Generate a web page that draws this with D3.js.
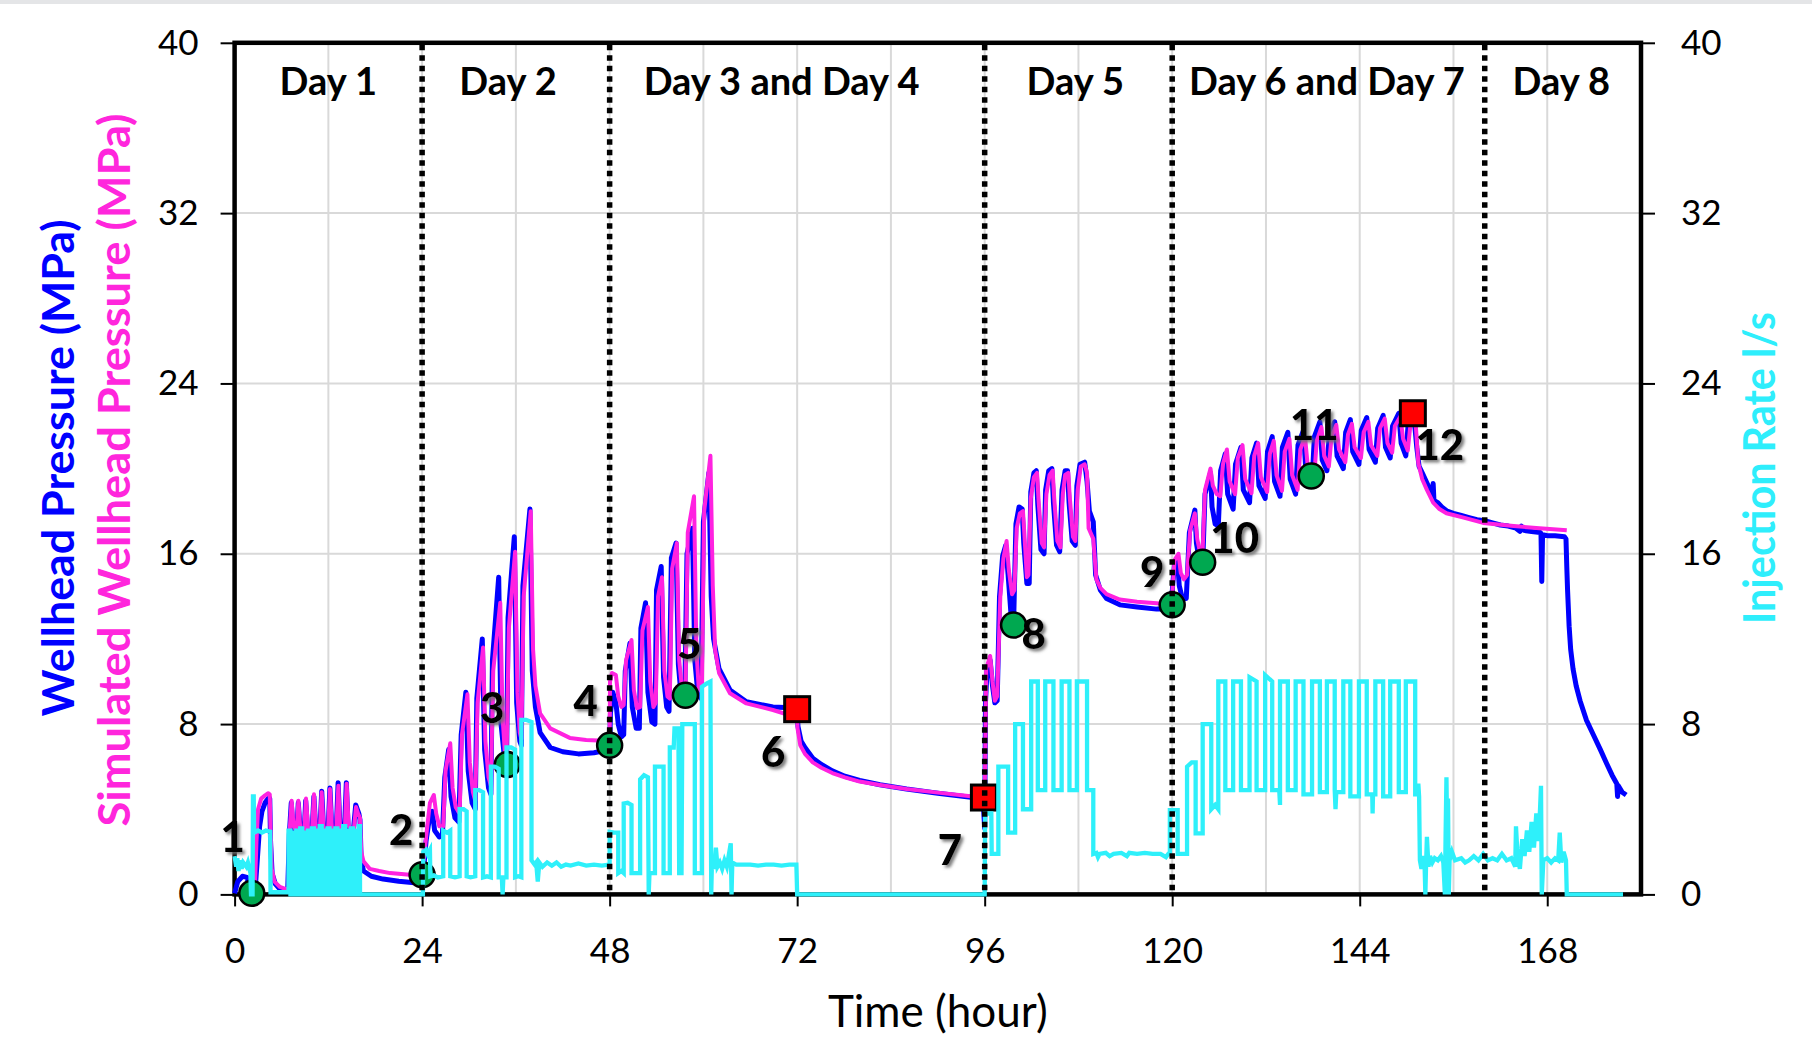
<!DOCTYPE html>
<html><head><meta charset="utf-8">
<script src="https://cdn.jsdelivr.net/npm/d3@7"></script>
<style>body{margin:0;background:#fff}svg{display:block}</style>
</head><body>
<svg id="chart" width="1812" height="1052"></svg>
<script>
// ---------------- DATA ----------------
const xTicks = [0, 24, 48, 72, 96, 120, 144, 168];
const yTicks = [0, 8, 16, 24, 32, 40];
const gridHours = [12, 24, 36, 48, 60, 72, 84, 96, 108, 120, 132, 144, 156, 168];
const gridValues = [8, 16, 24, 32];
const dayBoundaries = [24, 48, 96, 120, 160];
const dayNames = ["Day 1", "Day 2", "Day 3 and Day 4", "Day 5", "Day 6 and Day 7", "Day 8"];
const dayNameHours = [12, 35, 70, 107.6, 139.8, 169.8];

const markerHours  = [2.2, 24.0, 34.9, 48.0, 57.7, 72.0, 95.9, 99.7, 120.0, 123.9, 137.8, 150.8];
const markerValues = [0.05, 0.92, 6.1, 7.0, 9.35, 8.7, 4.55, 12.65, 13.6, 15.6, 19.65, 22.6];
const markerKinds  = ["obs","obs","obs","obs","obs","end","end","obs","obs","obs","obs","end"];
const markerNames  = ["1","2","3","4","5","6","7","8","9","10","11","12"];

const measuredPressure = [
[0,0.05],[0.4,0.6],[1.0,0.85],[1.6,0.8],[1.9,0.3],[2.2,0.05],[2.6,0.1],[2.9,1.6],[3.2,3.2],[3.5,3.9],[3.9,4.3],[4.3,4.5],[4.5,4.5],[4.6,2.5],[4.8,1.0],[5.2,0.5],[5.8,0.25],[6.8,0.2],
[7.0,2.8],[7.25,4.3],[7.5,3.0],[7.95,2.9],[8.15,4.3],[8.4,3.0],[8.9,2.9],[9.1,4.4],[9.35,3.0],[9.9,2.9],[10.15,4.6],[10.4,3.0],[10.9,2.9],[11.15,4.85],[11.4,3.0],[11.95,2.9],[12.2,5.0],[12.45,3.0],[13.0,2.9],[13.25,5.25],[13.5,3.0],[14.05,2.9],[14.3,5.25],[14.55,3.0],[15.2,3.0],[15.5,4.2],[15.9,3.8],[16.05,3.5],[16.2,1.6],[16.5,1.1],[17.5,0.85],[19,0.72],[21,0.62],[23,0.55],[23.9,0.6],
[24.0,0.7],[24.2,1.2],[24.5,2.5],[24.9,3.5],[25.3,3.9],[25.6,3.0],[26.2,2.7],[26.6,2.8],[26.9,5.5],[27.4,6.8],[27.7,4.6],[28.2,3.6],[28.7,3.4],[29.0,7.5],[29.6,9.5],[29.9,5.8],[30.4,4.3],[30.8,4.0],[31.0,9.2],[31.7,12.0],[32.0,6.8],[32.5,5.0],[32.8,4.7],[33.0,11.0],[33.8,14.9],[34.1,8.0],[34.6,6.2],[34.8,5.9],[35.0,13.0],[35.8,16.8],[36.1,9.0],[36.5,7.2],[36.7,7.0],[36.9,14.5],[37.8,18.1],[38.1,10.5],[38.5,8.8],[39.1,7.6],[40.4,6.9],[42,6.7],[44,6.6],[46,6.65],[48,6.8],
[48.1,8.5],[48.4,9.5],[48.8,9.0],[49.1,8.0],[49.5,7.4],[49.8,7.5],[50.0,10.5],[50.6,11.8],[50.9,8.8],[51.4,7.8],[51.8,7.8],[52.0,12.5],[52.6,13.7],[52.9,9.5],[53.4,8.1],[53.8,8.0],[54.0,14.3],[54.6,15.4],[54.9,10.2],[55.3,8.8],[55.6,8.6],[55.9,15.8],[56.5,16.5],[56.8,10.8],[57.2,9.1],[57.6,8.9],[57.9,16.0],[58.6,17.2],[58.9,11.0],[59.3,9.4],[59.7,9.2],[60.0,17.5],[60.7,19.8],[61.0,14.0],[61.3,12.0],[62.0,10.6],[63.4,9.6],[65.5,9.05],[68.9,8.8],[71.9,8.75],
[72.0,8.75],[72.1,7.9],[72.5,7.2],[73.0,6.9],[74.0,6.4],[75.1,6.1],[76.5,5.8],[78.1,5.55],[80,5.35],[82.6,5.15],[86,4.95],[90,4.75],[94.5,4.55],[95.8,4.4],[96.0,3.1],
[96.1,9.0],[96.3,10.5],[96.7,11.0],[97.0,9.8],[97.3,9.0],[97.6,9.1],[97.9,14.0],[98.3,15.9],[98.7,16.4],[99.0,15.0],[99.4,13.0],[99.7,12.7],[100.0,17.4],[100.4,18.2],[100.8,18.1],[101.0,16.5],[101.4,14.6],[101.7,14.6],[101.9,18.9],[102.3,19.8],[102.6,19.9],[102.8,18.3],[103.2,16.2],[103.6,16.0],[103.8,19.0],[104.2,19.9],[104.6,20.0],[104.8,18.4],[105.2,16.4],[105.6,16.1],[105.9,19.0],[106.3,19.9],[106.6,19.9],[106.8,18.4],[107.2,16.6],[107.6,16.4],[107.8,19.2],[108.2,20.2],[108.8,20.3],[109.1,19.4],[109.4,18.0],[109.9,17.5],[110.2,15.0],[110.8,14.3],[111.6,13.9],[113.3,13.6],[115.5,13.5],[118,13.4],[119.9,13.4],
[120.05,14.5],[120.3,15.5],[120.7,15.6],[120.9,14.5],[121.3,13.9],[121.8,13.9],[122.2,17.0],[122.9,18.05],[123.1,16.5],[123.5,15.6],[123.9,15.5],[124.2,18.8],[124.9,19.8],[125.1,18.2],[125.5,17.4],[125.9,17.3],
[126.2,19.9],[126.8,20.7],[127.1,18.8],[127.8,18.1],[128.1,20.2],[128.8,21.0],[129.1,19.0],[129.9,18.4],[130.2,20.5],[130.8,21.2],[131.1,19.2],[131.9,18.6],[132.2,20.8],[132.8,21.5],[133.1,19.4],[133.8,18.7],[134.1,21.0],[134.8,21.7],[135.1,19.5],[135.8,18.8],[136.1,21.1],[136.8,21.8],[137.1,19.9],[137.9,19.4],[138.2,21.5],[138.9,22.2],[139.2,20.4],[139.8,19.9],[140.1,21.6],[140.8,22.2],[141.1,20.6],[141.9,20.0],[142.2,21.7],[142.8,22.3],[143.1,20.8],[143.9,20.2],[144.2,21.8],[144.9,22.4],[145.2,20.9],[146.0,20.3],[146.3,21.9],[147.0,22.5],[147.3,21.0],[147.9,20.5],[148.2,22.0],[149.0,22.6],[149.3,21.2],[149.9,20.6],[150.2,22.1],[150.9,22.6],[151.3,21.0],[151.6,20.1],
[152.0,19.8],[152.5,19.4],[153.0,19.0],[153.3,18.6],[153.4,19.3],[153.5,18.5],[154.0,18.4],[154.5,18.2],[155.2,18.0],[156,17.9],[157,17.8],[158,17.7],[159,17.6],[160,17.55],[161,17.45],[162,17.35],[163,17.3],[164,17.2],[164.5,17.05],[164.7,17.3],[165,17.1],[166,17.05],[167.1,17.0],[167.2,16.95],[167.3,14.7],[167.4,16.9],[168,16.85],[169,16.85],[170.2,16.8],[170.4,16.7],[170.5,15.4],[170.6,14.3],[170.8,12.6],[171.0,11.5],[171.3,10.6],[171.7,9.8],[172.2,9.1],[173.0,8.2],[173.9,7.5],[174.8,6.8],[175.6,6.15],[176.3,5.6],[176.9,5.2],[177.0,4.6],[177.1,5.1],[177.6,4.8],[178.1,4.67]
];

const simulatedPressure = [
[2.2,0.05],[2.6,0.3],[2.8,2.5],[3.0,4.0],[3.4,4.5],[3.9,4.65],[4.3,4.75],[4.5,4.7],[4.6,3.0],[4.75,1.2],[5.1,0.6],[5.8,0.35],[6.9,0.2],
[7.05,3.0],[7.3,4.4],[7.55,3.2],[7.95,2.95],[8.16,4.4],[8.4,3.1],[8.9,2.95],[9.14,4.5],[9.4,3.1],[9.9,2.95],[10.16,4.7],[10.4,3.1],[10.9,2.95],[11.14,4.8],[11.4,3.1],[11.95,2.95],[12.21,4.95],[12.45,3.1],[13.0,2.95],[13.28,5.1],[13.5,3.1],[14.1,2.95],[14.34,5.2],[14.6,3.2],[15.25,3.0],[15.54,4.1],[15.8,3.8],[16.05,3.6],[16.2,2.0],[16.5,1.55],[17.3,1.2],[18.5,1.1],[19.9,1.0],[22.4,0.92],[24.0,0.9],
[24.2,1.6],[24.6,3.0],[25.0,4.3],[25.5,4.67],[25.8,3.8],[26.2,3.2],[26.7,3.2],[27.0,5.8],[27.6,7.1],[27.9,5.0],[28.3,4.1],[28.8,3.8],[29.1,7.5],[29.8,9.4],[30.1,6.2],[30.5,4.8],[30.8,4.4],[31.1,9.0],[31.8,11.6],[32.1,7.2],[32.5,5.5],[32.8,5.1],[33.1,10.5],[34.0,13.7],[34.3,8.3],[34.6,6.6],[34.8,6.2],[35.1,12.5],[35.9,16.1],[36.2,9.5],[36.5,7.6],[36.7,7.3],[37.0,14.0],[37.9,18.0],[38.2,11.5],[38.5,9.8],[39.1,8.5],[40.4,7.8],[42.9,7.35],[45,7.25],[48,7.2],
[48.05,10.0],[48.3,10.4],[48.8,10.3],[49.1,9.3],[49.5,8.8],[49.8,8.9],[50.1,11.0],[50.8,11.95],[51.1,9.6],[51.5,8.75],[51.9,8.8],[52.2,12.4],[52.9,13.5],[53.2,10.0],[53.6,8.8],[53.9,9.0],[54.2,14.0],[54.7,14.9],[55.0,10.5],[55.4,9.3],[55.7,9.2],[56.0,15.3],[56.6,16.5],[56.9,11.0],[57.3,9.5],[57.7,9.4],[58.0,17.0],[58.8,18.7],[59.1,11.5],[59.4,9.7],[59.8,9.5],[60.1,18.0],[60.9,20.6],[61.2,14.5],[61.5,11.5],[62.0,10.4],[63.4,9.45],[65.5,8.97],[68.9,8.66],[72.0,8.3],
[72.05,7.8],[72.4,7.0],[73.0,6.6],[74.0,6.2],[75.1,5.95],[76.5,5.7],[78.1,5.5],[80,5.3],[82.6,5.14],[86,4.95],[90,4.78],[94.5,4.6],[96.0,4.5],
[96.2,10.6],[96.7,11.2],[97.0,10.0],[97.3,9.1],[97.6,9.3],[98.0,14.0],[98.4,15.8],[98.8,16.6],[99.1,15.2],[99.5,14.1],[99.8,14.3],[100.1,17.2],[100.5,17.9],[100.9,18.0],[101.1,16.8],[101.4,14.9],[101.6,15.0],[101.9,18.6],[102.3,19.6],[102.7,19.8],[102.9,18.5],[103.3,16.5],[103.6,16.3],[103.9,18.8],[104.3,19.7],[104.7,19.9],[104.9,18.6],[105.3,16.6],[105.7,16.3],[106.0,18.8],[106.3,19.7],[106.7,19.8],[106.9,18.6],[107.3,16.8],[107.6,16.6],[107.9,19.0],[108.3,20.1],[108.8,20.2],[109.1,19.8],[109.3,17.2],[109.9,16.7],[110.3,14.8],[110.8,14.4],[111.6,14.1],[113.3,13.85],[115.5,13.75],[118.0,13.67],[119.9,13.6],
[120.1,14.6],[120.3,15.7],[120.8,16.0],[121.1,15.1],[121.5,14.8],[121.9,15.0],[122.3,17.1],[122.9,17.9],[123.2,16.7],[123.6,16.0],[123.9,16.2],[124.2,19.0],[124.9,20.0],[125.2,19.2],[125.7,18.8],[126.15,18.7],
[126.5,20.2],[127.0,20.9],[127.35,19.4],[128.05,18.8],[128.4,20.5],[129.0,21.1],[129.35,19.5],[130.15,18.85],[130.5,20.6],[131.0,21.2],[131.35,19.6],[132.15,18.9],[132.5,20.7],[133.0,21.3],[133.35,19.7],[134.05,18.95],[134.4,20.8],[135.0,21.4],[135.35,19.7],[136.05,19.0],[136.4,20.9],[137.0,21.5],[137.35,20.1],[138.15,19.5],[138.5,21.3],[139.1,21.95],[139.45,20.6],[140.05,20.1],[140.4,21.5],[141.0,22.05],[141.35,20.9],[142.15,20.3],[142.5,21.6],[143.0,22.1],[143.35,21.0],[144.15,20.5],[144.5,21.7],[145.1,22.2],[145.45,21.1],[146.25,20.6],[146.6,21.9],[147.2,22.35],[147.55,21.2],[148.15,20.75],[148.5,22.0],[149.2,22.45],[149.55,21.4],[150.15,20.85],
[150.5,22.1],[150.9,22.5],[151.2,21.9],[151.5,20.25],[152.0,19.5],[152.6,19.0],[153.4,18.4],[154.2,18.1],[155.1,17.9],[157.3,17.7],[159.8,17.45],[163.7,17.3],[167.0,17.2],[170.5,17.1]
];

const injectionRate = [
[0,1.8],[0.2,1.3],[0.35,1.7],[0.5,1.1],[0.7,1.6],[0.9,1.2],[1.1,1.5],[1.3,1.4],[1.5,1.3],[1.7,1.5],[1.9,1.2],[2.0,1.3],[2.1,0],[2.3,0],[2.35,4.6],[2.45,4.6],[2.5,2.9],[3.0,3.0],[3.5,2.9],[4.0,3.0],[4.55,2.95],[4.6,0.1],[6.9,0.1],
[6.9,0],[6.9,3.0],[7.15,3.0],[7.15,0],[7.4,0],[7.4,2.9],[7.65,2.9],[7.65,0],[7.9,0],[7.9,3.0],[8.15,3.0],[8.15,0],[8.4,0],[8.4,3.1],[8.65,3.1],[8.65,0],[8.9,0],[8.9,2.9],[9.15,2.9],[9.15,0],[9.4,0],[9.4,3.0],[9.65,3.0],[9.65,0],[9.9,0],[9.9,3.1],[10.15,3.1],[10.15,0],[10.4,0],[10.4,3.0],[10.65,3.0],[10.65,0],[10.9,0],[10.9,3.2],[11.15,3.2],[11.15,0],[11.4,0],[11.4,3.0],[11.65,3.0],[11.65,0],[11.9,0],[11.9,3.1],[12.15,3.1],[12.15,0],[12.4,0],[12.4,3.0],[12.65,3.0],[12.65,0],[12.9,0],[12.9,3.1],[13.15,3.1],[13.15,0],[13.4,0],[13.4,3.0],[13.65,3.0],[13.65,0],[13.9,0],[13.9,3.2],[14.15,3.2],[14.15,0],[14.4,0],[14.4,3.0],[14.65,3.0],[14.65,0],[14.9,0],[14.9,3.1],[15.15,3.1],[15.15,0],[15.4,0],[15.4,3.0],[15.65,3.0],[15.65,0],[15.9,0],[15.9,3.2],[16.05,3.2],[16.05,0],[24.0,0],
[24.1,0],[24.15,2.0],[24.5,2.1],[24.7,1.9],[25.0,2.1],[25.05,0.85],[25.5,0.9],[26.0,0.8],[26.7,0.85],[26.7,3.0],[27.2,2.9],[27.6,3.0],[27.6,0.85],[28.2,0.8],[28.8,0.85],[28.8,4.0],[29.3,4.0],[29.7,3.9],[29.7,0.85],[30.2,0.8],[30.8,0.85],[30.8,4.9],[31.3,4.9],[31.8,4.8],[31.8,0.8],[32.3,0.85],[32.8,0.8],[32.8,6.0],[33.3,6.0],[33.8,5.9],[33.8,0.8],[34.2,0.8],[34.3,0],[34.4,0.8],[34.8,0.8],[34.8,6.9],[35.4,6.9],[35.9,6.8],[35.9,0.8],[36.3,0.85],[36.7,0.8],[36.7,8.2],[37.3,8.2],[38.0,8.1],[38.0,1.6],[38.4,1.4],[38.6,1.5],[38.8,0.6],[39.0,1.5],[39.4,1.3],[40,1.5],[40.6,1.35],[41.2,1.5],[41.8,1.3],[42.4,1.4],[43,1.35],[44,1.45],[45,1.35],[46,1.4],[47,1.35],[47.9,1.4],
[48.0,1.4],[48.0,2.94],[48.6,2.9],[49.1,2.9],[49.1,1.0],[49.5,1.1],[49.8,1.0],[49.8,4.27],[50.3,4.3],[50.8,4.2],[50.8,1.0],[51.3,1.0],[51.9,1.0],[51.9,5.4],[52.4,5.6],[52.9,5.5],[53.0,0],[53.1,1.0],[53.8,1.0],[53.8,6.0],[54.4,6.0],[54.9,6.0],[54.9,1.0],[55.3,1.0],[55.7,1.0],[55.7,6.9],[56.2,6.9],[56.3,7.8],[56.8,7.8],[56.9,1.0],[57.2,1.0],[57.3,8.0],[58.0,8.0],[58.9,8.0],[58.9,1.0],[59.4,1.0],[59.8,1.0],[59.8,9.75],[60.4,9.9],[60.9,10.0],[61.0,0],[61.1,1.6],[61.4,1.2],[61.6,2.2],[61.8,1.3],[62.1,1.5],[62.4,1.2],[62.7,1.6],[63.0,1.3],[63.5,2.4],[63.6,0],[63.7,1.5],[64.2,1.4],[65,1.4],[66,1.4],[67,1.35],[68,1.4],[69,1.4],[70,1.35],[71,1.4],[71.9,1.4],[72.0,0],[96.0,0],
[96.05,3.8],[96.85,3.8],[96.9,1.9],[97.75,1.9],[97.75,6.0],[99.0,6.0],[99.0,2.9],[99.9,2.9],[99.9,8.0],[100.9,8.0],[100.9,4.0],[101.95,4.0],[101.95,10.0],[102.8,10.0],[102.8,4.9],[103.75,4.9],[103.75,10.0],[104.8,10.0],[104.8,4.9],[105.85,4.9],[105.85,10.0],[106.85,10.0],[106.85,4.9],[107.8,4.9],[107.8,10.0],[109.1,10.0],[109.1,4.9],[109.9,4.9],[109.9,1.9],[110.3,1.95],[110.5,1.75],[110.7,1.9],[111.5,1.95],[112,1.8],[112.5,1.9],[113.5,1.95],[114.2,1.8],[114.5,1.95],[115.5,1.9],[116.5,1.95],[117.5,1.9],[118.5,1.9],[119.2,1.75],[119.5,1.9],[119.7,1.9],
[119.7,3.96],[120.7,3.96],[120.7,1.9],[121.9,1.9],[121.9,6.0],[122.5,6.2],[123.0,6.2],[123.0,2.87],[123.9,2.87],[123.9,8.0],[125.0,8.0],[125.0,4.0],[125.5,4.2],[125.9,4.0],
[125.9,10.0],[126.8,10.0],[126.8,4.9],[127.8,4.9],[127.8,10.0],[128.8,10.0],[128.8,4.9],[129.9,4.9],[129.9,10.2],[130.8,10.0],[130.8,4.9],[131.9,4.9],[131.9,10.3],[132.8,10.0],[132.8,4.9],[133.7,4.9],[133.8,4.2],[133.8,10.0],[134.8,10.0],[134.8,4.9],[135.8,4.9],[135.8,10.0],[136.8,10.0],[136.8,4.7],[137.9,4.7],[137.9,10.0],[138.9,10.0],[138.9,4.8],[139.8,4.8],[139.8,10.0],[140.8,10.0],[140.8,4.9],[140.9,4.0],[141.0,4.8],[141.9,4.8],[141.9,10.0],[142.8,10.0],[142.8,4.6],[143.9,4.6],[143.9,10.0],[144.9,10.0],[144.9,4.7],[145.6,4.7],[145.65,3.8],[145.7,4.7],[146.0,4.7],[146.0,10.0],[147.0,10.0],[147.0,4.6],[147.9,4.6],[147.9,10.0],[149.0,10.0],[149.0,4.8],[149.9,4.8],[149.9,10.0],[151.1,10.0],[151.1,4.7],[151.4,4.7],[151.5,5.2],[151.6,4.6],[151.7,1.6],
[151.9,1.2],[152.1,1.8],[152.3,1.4],[152.4,0],[152.5,1.5],[152.6,2.7],[152.8,1.3],[153.0,1.8],[153.3,1.5],[153.6,1.7],[154.0,1.6],[154.4,1.8],[154.7,1.5],[154.9,0],[155.0,3.0],[155.1,5.5],[155.2,2.5],[155.3,4.5],[155.4,0],[155.5,1.6],[155.8,2.0],[156.2,1.6],[157,1.7],[157.5,1.5],[158,1.6],[158.6,1.8],[159.2,1.6],[159.8,1.9],[160.4,1.6],[161,1.7],[161.6,1.6],[162.2,1.9],[162.8,1.6],[163.4,1.7],[163.9,1.3],[164.0,3.2],[164.2,1.8],[164.5,1.2],[164.8,2.6],[165.1,1.8],[165.4,3.0],[165.7,2.0],[166.0,3.4],[166.3,2.2],[166.6,3.8],[166.9,2.5],[167.1,4.2],[167.2,5.1],[167.3,0],[167.5,1.6],[168,1.7],[168.5,1.5],[169,1.7],[169.4,1.6],[169.6,2.9],[169.8,1.5],[170.1,2.0],[170.4,1.6],[170.5,0],[177.7,0]
];

// ---------------- DRAWING ----------------
const W = 1812, H = 1052;
const M = {left: 234.6, right: 1641, top: 42.8, bottom: 894.4};
const FONT = "Lato, 'Open Sans', sans-serif";
const C = {blue: "#0000ff", magenta: "#ff22e0", cyan: "#2ef0fa", green: "#00a850", red: "#ff0000", grid: "#d9d9d9"};

const x = d3.scaleLinear().domain([0, 180]).range([M.left, M.right]);
const y = d3.scaleLinear().domain([0, 40]).range([M.bottom, M.top]);
const yRate = d3.scaleLinear().domain([0, 40]).range([M.bottom, M.top]);

const svg = d3.select("#chart");
const defs = svg.append("defs");
const f = defs.append("filter").attr("id", "shadow").attr("x", "-30%").attr("y", "-30%").attr("width", "160%").attr("height", "160%");
f.append("feDropShadow").attr("dx", 2.5).attr("dy", 2.5).attr("stdDeviation", 1.6).attr("flood-color", "#707070").attr("flood-opacity", 0.9);

svg.append("rect").attr("x", 0).attr("y", 0).attr("width", W).attr("height", 4).attr("fill", "#e4e5e7");

// grid
svg.append("g").selectAll("line").data(gridHours).join("line")
  .attr("x1", d => x(d)).attr("x2", d => x(d)).attr("y1", M.top).attr("y2", M.bottom)
  .attr("stroke", C.grid).attr("stroke-width", 2);
svg.append("g").selectAll("line").data(gridValues).join("line")
  .attr("y1", d => y(d)).attr("y2", d => y(d)).attr("x1", M.left).attr("x2", M.right)
  .attr("stroke", C.grid).attr("stroke-width", 2);

// axes
function styleAxis(g) {
  g.select(".domain").remove();
  g.selectAll(".tick line").attr("stroke", "#000").attr("stroke-width", 2);
  g.selectAll(".tick text").attr("font-family", FONT).attr("font-size", 35).attr("fill", "#000");
}
svg.append("g").attr("transform", `translate(${M.left},0)`)
  .call(d3.axisLeft(y).tickValues(yTicks).tickSize(14).tickPadding(22).tickFormat(d3.format("d")))
  .call(styleAxis);
svg.append("g").attr("transform", `translate(${M.right},0)`)
  .call(d3.axisRight(yRate).tickValues(yTicks).tickSize(14).tickPadding(26).tickFormat(d3.format("d")))
  .call(styleAxis);
svg.append("g").attr("transform", `translate(0,${M.bottom})`)
  .call(d3.axisBottom(x).tickValues(xTicks).tickSize(12).tickPadding(32).tickFormat(d3.format("d")))
  .call(styleAxis);

// frame
svg.append("rect").attr("x", M.left).attr("y", M.top).attr("width", M.right - M.left).attr("height", M.bottom - M.top)
  .attr("fill", "none").attr("stroke", "#000").attr("stroke-width", 4.5);

const line = d3.line().x(d => x(d[0])).y(d => y(d[1]));
const lineRate = d3.line().x(d => x(d[0])).y(d => yRate(d[1]));

svg.append("path").datum(measuredPressure).attr("d", line)
  .attr("fill", "none").attr("stroke", C.blue).attr("stroke-width", 5).attr("stroke-linejoin", "round");
svg.append("path").datum(simulatedPressure).attr("d", line)
  .attr("fill", "none").attr("stroke", C.magenta).attr("stroke-width", 4).attr("stroke-linejoin", "round");

// markers
const markers = markerHours.map((t, i) => ({t, v: markerValues[i], kind: markerKinds[i], name: markerNames[i]}));
const mg = svg.append("g");
mg.selectAll("circle").data(markers.filter(d => d.kind === "obs")).join("circle")
  .attr("cx", d => x(d.t)).attr("cy", d => y(d.v)).attr("r", 12.5)
  .attr("fill", C.green).attr("stroke", "#000").attr("stroke-width", 2.5);
mg.selectAll("rect").data(markers.filter(d => d.kind === "end")).join("rect")
  .attr("x", d => x(d.t) - 12.5).attr("y", d => y(d.v) - 12.5).attr("width", 25).attr("height", 25)
  .attr("fill", C.red).attr("stroke", "#000").attr("stroke-width", 3);

svg.append("path").datum(injectionRate).attr("d", lineRate)
  .attr("fill", "none").attr("stroke", C.cyan).attr("stroke-width", 4.3).attr("stroke-linejoin", "miter");

// day boundaries
svg.append("g").selectAll("line").data(dayBoundaries).join("line")
  .attr("x1", d => x(d)).attr("x2", d => x(d)).attr("y1", M.top + 2).attr("y2", M.bottom - 2)
  .attr("stroke", "#000").attr("stroke-width", 5.5).attr("stroke-dasharray", "5.5 5");

// marker labels
const labelOffsets = [[-19,-56],[-21,-45],[-15,-57],[-24,-44],[4,-51],[-24,43],[-34,52],[20,9],[-20,-33],[32,-24],[3,-51],[27,32]];
svg.append("g").selectAll("text").data(markers).join("text")
  .attr("x", (d, i) => x(d.t) + labelOffsets[i][0]).attr("y", (d, i) => y(d.v) + labelOffsets[i][1])
  .attr("dy", "0.36em").attr("text-anchor", "middle")
  .attr("font-family", FONT).attr("font-weight", 900).attr("font-size", 42).attr("fill", "#000")
  .attr("filter", "url(#shadow)").text(d => d.name);

// day names
svg.append("g").selectAll("text").data(dayNames).join("text")
  .attr("x", (d, i) => x(dayNameHours[i])).attr("y", 95).attr("text-anchor", "middle")
  .attr("font-family", FONT).attr("font-weight", 700).attr("font-size", 38).attr("fill", "#000")
  .text(d => d);

// axis titles
svg.append("text").attr("x", x(90)).attr("y", 1027).attr("text-anchor", "middle")
  .attr("font-family", FONT).attr("font-size", 44).attr("fill", "#000").text("Time (hour)");
svg.append("text").attr("transform", "translate(59,468) rotate(-90)").attr("dy", "0.35em").attr("text-anchor", "middle")
  .attr("font-family", FONT).attr("font-weight", 700).attr("font-size", 44).attr("fill", C.blue)
  .attr("textLength", 497).attr("lengthAdjust", "spacingAndGlyphs").text("Wellhead Pressure (MPa)");
svg.append("text").attr("transform", "translate(115,470) rotate(-90)").attr("dy", "0.35em").attr("text-anchor", "middle")
  .attr("font-family", FONT).attr("font-weight", 700).attr("font-size", 44).attr("fill", "#ff26dc")
  .attr("textLength", 713).attr("lengthAdjust", "spacingAndGlyphs").text("Simulated Wellhead Pressure (MPa)");
svg.append("text").attr("transform", "translate(1760,468) rotate(-90)").attr("dy", "0.35em").attr("text-anchor", "middle")
  .attr("font-family", FONT).attr("font-weight", 700).attr("font-size", 43).attr("fill", "#2eeefc")
  .attr("textLength", 312).attr("lengthAdjust", "spacingAndGlyphs").text("Injection Rate l/s");
</script>
</body></html>
